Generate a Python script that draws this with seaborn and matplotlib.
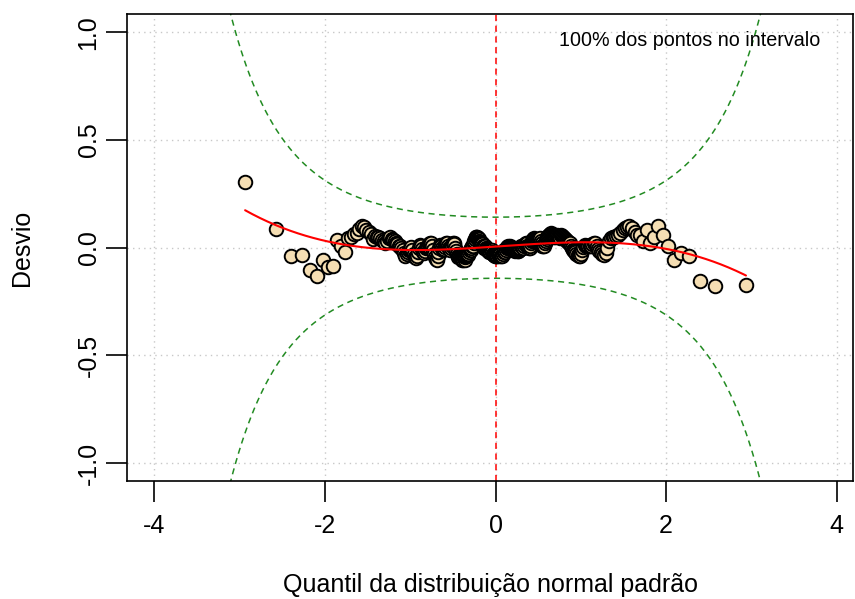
import numpy as np
import pandas as pd
import matplotlib
matplotlib.use("Agg")
import matplotlib.pyplot as plt
import seaborn as sns
from statistics import NormalDist

# Detrended residuals (worm plot), ordered by sample quantile
desvio = [
    0.306, 0.085, -0.037, -0.035, -0.102, -0.133, -0.056, -0.089, -0.085, 0.034,
    0.010, -0.022, 0.045, 0.050, 0.062, 0.068, 0.085, 0.102, 0.095, 0.080,
    0.071, 0.065, 0.040, 0.055, 0.050, 0.050, 0.045, 0.035, 0.030, 0.022,
    0.030, 0.045, 0.052, 0.040, 0.035, 0.030, 0.020, 0.015, 0.010, 0.006,
    0.000, -0.010, -0.025, -0.040, -0.030, -0.020, -0.010, -0.005, 0.005, -0.010,
    -0.030, -0.045, -0.048, -0.040, -0.020, 0.000, 0.014, 0.010, -0.005, -0.020,
    -0.025, -0.015, 0.000, 0.005, 0.010, 0.015, 0.020, 0.022, 0.010, -0.010,
    -0.030, -0.045, -0.052, -0.056, -0.040, -0.020, 0.000, 0.014, 0.010, 0.000,
    -0.009, -0.005, 0.005, 0.015, 0.022, 0.020, 0.010, 0.000, -0.005, -0.010,
    0.000, 0.010, 0.020, 0.022, 0.015, 0.000, -0.015, -0.030, -0.040, -0.045,
    -0.040, -0.045, -0.050, -0.048, -0.055, -0.056, -0.050, -0.055, -0.045, -0.040,
    -0.035, -0.032, -0.030, -0.020, -0.010, -0.010, 0.000, 0.006, 0.010, 0.020,
    0.030, 0.040, 0.050, 0.052, 0.048, 0.045, 0.040, 0.030, 0.025, 0.020,
    0.022, 0.015, 0.010, 0.000, 0.005, 0.010, 0.000, -0.005, -0.009, -0.010,
    -0.015, -0.020, -0.020, -0.010, -0.009, -0.020, -0.030, -0.032, -0.035, -0.040,
    -0.040, -0.035, -0.040, -0.030, -0.040, -0.035, -0.030, -0.040, -0.035, -0.040,
    -0.030, -0.020, -0.010, -0.020, -0.010, 0.000, 0.005, 0.009, 0.005, 0.000,
    0.009, 0.005, 0.000, -0.005, -0.009, -0.010, -0.015, -0.010, -0.005, -0.009,
    -0.015, -0.017, -0.010, -0.005, 0.000, 0.006, 0.010, 0.005, 0.000, 0.006,
    0.015, 0.022, 0.020, 0.010, 0.005, -0.001, 0.000, 0.010, 0.020, 0.030,
    0.037, 0.040, 0.045, 0.040, 0.035, 0.030, 0.030, 0.035, 0.040, 0.045,
    0.030, 0.020, 0.010, 0.006, 0.010, 0.020, 0.030, 0.040, 0.050, 0.055,
    0.060, 0.065, 0.068, 0.065, 0.060, 0.055, 0.052, 0.050, 0.055, 0.060,
    0.055, 0.050, 0.045, 0.060, 0.055, 0.050, 0.045, 0.040, 0.037, 0.030,
    0.025, 0.022, 0.020, 0.010, 0.000, -0.009, -0.015, -0.020, -0.030, -0.035,
    -0.040, -0.040, -0.030, -0.010, 0.005, 0.014, 0.010, 0.006, 0.010, 0.006,
    0.010, 0.015, 0.022, 0.020, 0.010, -0.005, -0.017, -0.020, -0.030, -0.032,
    -0.025, 0.000, 0.030, 0.045, 0.052, 0.050, 0.055, 0.060, 0.070, 0.080,
    0.091, 0.095, 0.099, 0.090, 0.075, 0.060, 0.060, 0.030, 0.083, 0.022,
    0.052, 0.099, 0.060, 0.009, -0.056, -0.025, -0.040, -0.153, -0.176, -0.172,
]
x_ticks = [-4, -2, 0, 2, 4]
y_ticks = [-1.0, -0.5, 0.0, 0.5, 1.0]
x_tick_labels = ["-4", "-2", "0", "2", "4"]
y_tick_labels = ["-1.0", "-0.5", "0.0", "0.5", "1.0"]
conf_level = 0.95
x_label = "Quantil da distribuição normal padrão"
y_label = "Desvio"

nd = NormalDist()
n = len(desvio)
# theoretical normal quantiles at ppoints(n)
quantis = [nd.inv_cdf((i - 0.5) / n) for i in range(1, n + 1)]
pts = pd.DataFrame({"quantil": quantis, "desvio": desvio})

# pointwise confidence band of the worm plot
z_grid = np.linspace(-4.4, 4.4, 500)
p_grid = np.array([nd.cdf(v) for v in z_grid])
dens = np.array([nd.pdf(v) for v in z_grid])
se = np.sqrt(p_grid * (1 - p_grid) / n) / dens
crit = nd.inv_cdf(1 - (1 - conf_level) / 2)
band = pd.DataFrame({"z": z_grid, "upper": crit * se, "lower": -crit * se})

# cubic trend through the worm
coef = np.polyfit(pts["quantil"], pts["desvio"], 3)
x_fit = np.linspace(min(quantis), max(quantis), 200)
fit = pd.DataFrame({"x": x_fit, "y": np.polyval(coef, x_fit)})

# share of points inside the band
se_pts = np.array([np.sqrt(nd.cdf(q) * (1 - nd.cdf(q)) / n) / nd.pdf(q) for q in quantis])
pct = 100 * np.mean(np.abs(np.array(desvio)) <= crit * se_pts)
annot = f"{pct:.0f}% dos pontos no intervalo"

sns.set_theme(style="white")
plt.rcParams["font.family"] = ["Liberation Sans", "DejaVu Sans"]

fig = plt.figure(figsize=(8.55, 5.99), dpi=100)
ax = fig.add_axes([0.1485, 0.197, 0.8492, 0.7796])

for t in x_ticks:
    ax.axvline(t, color="#c8c8c8", lw=1.0, ls=(0, (1, 3)), zorder=0)
for t in y_ticks:
    ax.axhline(t, color="#c8c8c8", lw=1.0, ls=(0, (1, 3)), zorder=0)

sns.lineplot(data=band, x="z", y="upper", ax=ax, color="#228B22", lw=1.1,
             linestyle=(0, (4, 3)), sort=False, estimator=None, zorder=1)
sns.lineplot(data=band, x="z", y="lower", ax=ax, color="#228B22", lw=1.1,
             linestyle=(0, (4, 3)), sort=False, estimator=None, zorder=1)
ax.axvline(0, color="#ff0000", lw=1.1, ls=(0, (4, 3)), zorder=1.5)

sns.scatterplot(data=pts, x="quantil", y="desvio", ax=ax, s=95,
                color="#F5DEB3", edgecolor="black", linewidth=1.4, zorder=3)
sns.lineplot(data=fit, x="x", y="y", ax=ax, color="#ff0000", lw=1.5,
             sort=False, estimator=None, zorder=4)

ax.text(2.28, 0.96, annot, ha="center", va="center", fontsize=14.2, color="black")

ax.set_xlim(-4.32, 4.19)
ax.set_ylim(-1.083, 1.085)
ax.set_xticks(x_ticks)
ax.set_xticklabels(x_tick_labels)
ax.set_yticks(y_ticks)
ax.set_yticklabels(y_tick_labels, rotation=90, va="center")
ax.tick_params(axis="both", direction="out", length=15, width=1.2, colors="black",
               labelsize=18, bottom=True, left=True)
ax.tick_params(axis="x", pad=9)
ax.tick_params(axis="y", pad=4)
ax.set_xlabel(x_label, fontsize=18, labelpad=25, color="black")
ax.set_ylabel(y_label, fontsize=18, labelpad=31, color="black")
for sp in ax.spines.values():
    sp.set_color("black")
    sp.set_linewidth(1.2)

fig.savefig("out.png", dpi=100)
